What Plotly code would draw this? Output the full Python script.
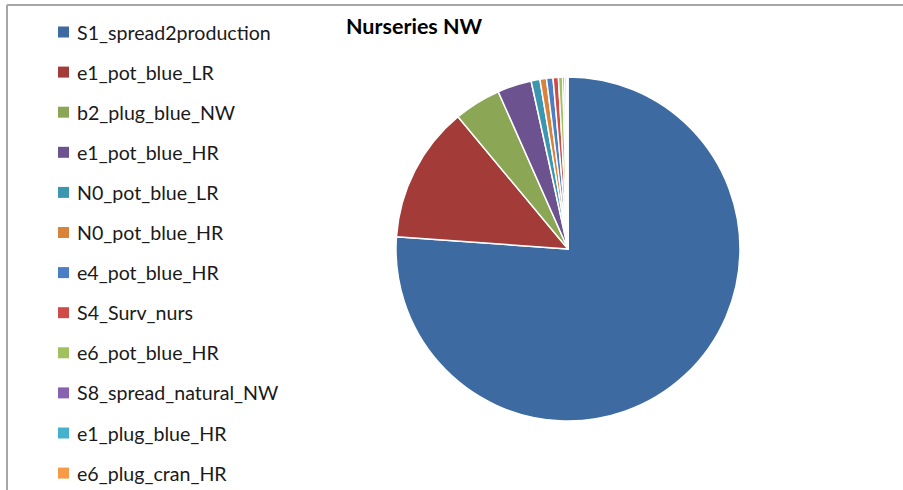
import plotly.graph_objects as go

labels = ["S1_spread2production", "e1_pot_blue_LR", "b2_plug_blue_NW", "e1_pot_blue_HR",
          "N0_pot_blue_LR", "N0_pot_blue_HR", "e4_pot_blue_HR", "S4_Surv_nurs",
          "e6_pot_blue_HR", "S8_spread_natural_NW", "e1_plug_blue_HR", "e6_plug_cran_HR"]
values = [76.1, 12.8, 4.4, 3.2, 0.83, 0.61, 0.61, 0.5, 0.39, 0.19, 0.17, 0.14]
colors = ["#3D6AA0", "#A33B38", "#8BA654", "#6D5290", "#3B97AF", "#D9823A",
          "#4A7EC5", "#CF4B47", "#A0C15E", "#8762B0", "#44B2CF", "#F79A48"]

W, H = 903, 490

fig = go.Figure(go.Pie(
    labels=labels, values=values, sort=False, direction="clockwise", rotation=0,
    marker=dict(colors=colors, line=dict(color="white", width=1.5)),
    textinfo="none", hoverinfo="label+percent", showlegend=False,
    domain=dict(x=[396 / W, 740 / W], y=[1 - 421 / H, 1 - 77 / H]),
))

# manual legend
shapes = []
annotations = []
y0 = 32
step = 40.1
for i, (lab, col) in enumerate(zip(labels, colors)):
    yc = y0 + i * step
    shapes.append(dict(type="rect", xref="paper", yref="paper",
                       x0=58 / W, x1=69 / W, y0=1 - (yc + 5.5) / H, y1=1 - (yc - 5.5) / H,
                       fillcolor=col, line=dict(width=0)))
    annotations.append(dict(text=lab, xref="paper", yref="paper", x=75 / W, y=1 - yc / H,
                            xanchor="left", yanchor="middle", showarrow=False,
                            font=dict(family="Lato", size=19.6, color="#1a1a1a")))

# frame lines
shapes.append(dict(type="line", xref="paper", yref="paper", x0=7 / W, x1=1, y0=1 - 5 / H, y1=1 - 5 / H,
                   line=dict(color="#A6A6A6", width=2)))
shapes.append(dict(type="line", xref="paper", yref="paper", x0=7 / W, x1=7 / W, y0=0, y1=1 - 5 / H,
                   line=dict(color="#A6A6A6", width=2)))

annotations.append(dict(text="<b>Nurseries NW</b>", xref="paper", yref="paper", x=414 / W, y=1 - 26 / H,
                        xanchor="center", yanchor="middle", showarrow=False,
                        font=dict(family="Lato", size=21.5, color="#000000")))

fig.update_layout(width=W, height=H, margin=dict(l=0, r=0, t=0, b=0),
                  paper_bgcolor="white", plot_bgcolor="white",
                  shapes=shapes, annotations=annotations)

fig.write_html("out.html", config={"displayModeBar": False},
               post_script="document.body.style.margin='0';")
